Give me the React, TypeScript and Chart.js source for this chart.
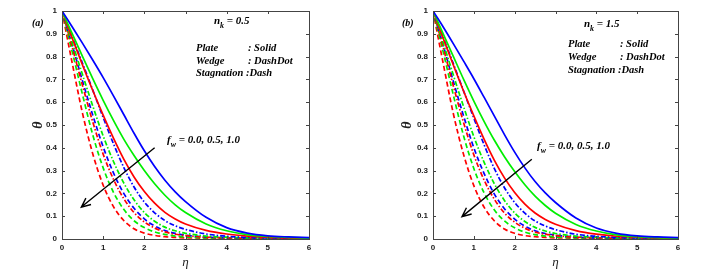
import React, { useEffect, useRef } from 'react';
import { Chart, registerables } from 'chart.js';

Chart.register(...registerables);

// ---------- data ----------
const eta = [0, 0.25, 0.5, 0.75, 1, 1.25, 1.5, 1.75, 2, 2.25, 2.5, 2.75, 3, 3.5, 4, 4.5, 5, 5.5, 6];
const xTickLabels = ['0', '1', '2', '3', '4', '5', '6'];
const yTickLabels = ['0', '0.1', '0.2', '0.3', '0.4', '0.5', '0.6', '0.7', '0.8', '0.9', '1'];

// Panel (a): n_k = 0.5
const plateBlueA = [1, 0.93, 0.858, 0.784, 0.708, 0.628, 0.546, 0.464, 0.387, 0.318, 0.258, 0.207, 0.164, 0.095, 0.05, 0.026, 0.014, 0.009, 0.006];
const plateGreenA = [1, 0.9, 0.8, 0.702, 0.608, 0.52, 0.438, 0.366, 0.3, 0.242, 0.192, 0.15, 0.116, 0.066, 0.036, 0.019, 0.011, 0.007, 0.004];
const plateRedA = [1, 0.88, 0.762, 0.65, 0.543, 0.442, 0.35, 0.272, 0.208, 0.157, 0.117, 0.088, 0.066, 0.038, 0.022, 0.013, 0.008, 0.005, 0.004];
const wedgeBlueA = [1, 0.885, 0.77, 0.652, 0.533, 0.418, 0.314, 0.228, 0.162, 0.115, 0.081, 0.058, 0.042, 0.022, 0.012, 0.007, 0.005, 0.004, 0.003];
const wedgeGreenA = [1, 0.86, 0.72, 0.582, 0.452, 0.34, 0.246, 0.172, 0.116, 0.078, 0.052, 0.036, 0.025, 0.013, 0.008, 0.005, 0.004, 0.003, 0.003];
const wedgeRedA = [1, 0.84, 0.672, 0.512, 0.372, 0.262, 0.177, 0.116, 0.075, 0.048, 0.031, 0.021, 0.015, 0.008, 0.005, 0.004, 0.003, 0.002, 0.002];
const stagBlueA = [1, 0.85, 0.692, 0.542, 0.404, 0.29, 0.2, 0.135, 0.088, 0.057, 0.037, 0.025, 0.017, 0.009, 0.005, 0.004, 0.003, 0.002, 0.002];
const stagGreenA = [1, 0.82, 0.632, 0.455, 0.312, 0.205, 0.13, 0.08, 0.05, 0.031, 0.02, 0.013, 0.009, 0.005, 0.004, 0.003, 0.003, 0.002, 0.002];
const stagRedA = [1, 0.77, 0.55, 0.372, 0.236, 0.142, 0.081, 0.045, 0.026, 0.016, 0.01, 0.007, 0.005, 0.004, 0.003, 0.003, 0.002, 0.002, 0.002];

// Panel (b): n_k = 1.5
const plateBlueB = [1, 0.93, 0.856, 0.78, 0.703, 0.622, 0.54, 0.458, 0.381, 0.312, 0.252, 0.202, 0.16, 0.092, 0.048, 0.025, 0.014, 0.009, 0.006];
const plateGreenB = [1, 0.9, 0.8, 0.7, 0.605, 0.516, 0.434, 0.361, 0.296, 0.238, 0.188, 0.147, 0.113, 0.064, 0.035, 0.018, 0.01, 0.006, 0.004];
const plateRedB = [1, 0.88, 0.762, 0.648, 0.54, 0.438, 0.346, 0.268, 0.204, 0.153, 0.114, 0.086, 0.065, 0.037, 0.021, 0.012, 0.008, 0.005, 0.004];
const wedgeBlueB = [1, 0.885, 0.768, 0.649, 0.53, 0.414, 0.31, 0.225, 0.16, 0.113, 0.079, 0.057, 0.041, 0.021, 0.012, 0.007, 0.005, 0.004, 0.003];
const wedgeGreenB = [1, 0.86, 0.718, 0.58, 0.449, 0.337, 0.243, 0.169, 0.114, 0.077, 0.051, 0.035, 0.024, 0.013, 0.008, 0.005, 0.004, 0.003, 0.003];
const wedgeRedB = [1, 0.84, 0.67, 0.51, 0.369, 0.259, 0.175, 0.114, 0.074, 0.047, 0.03, 0.021, 0.015, 0.008, 0.005, 0.004, 0.003, 0.002, 0.002];
const stagBlueB = [1, 0.85, 0.69, 0.539, 0.4, 0.288, 0.198, 0.133, 0.087, 0.056, 0.036, 0.024, 0.017, 0.009, 0.005, 0.004, 0.003, 0.002, 0.002];
const stagGreenB = [1, 0.82, 0.63, 0.452, 0.309, 0.203, 0.128, 0.079, 0.049, 0.03, 0.019, 0.013, 0.009, 0.005, 0.004, 0.003, 0.003, 0.002, 0.002];
const stagRedB = [1, 0.77, 0.548, 0.37, 0.234, 0.14, 0.08, 0.044, 0.025, 0.015, 0.01, 0.007, 0.005, 0.004, 0.003, 0.003, 0.002, 0.002, 0.002];

// ---------- styles ----------
const SERIF = '"Liberation Serif", "Times New Roman", serif';
const SANS = '"Liberation Sans", Arial, sans-serif';
const BLUE = '#0000ff';
const GREEN = '#00ee00';
const RED = '#ff0000';
const DASH_SOLID: number[] = [];
const DASH_DOT = [5, 2, 1.5, 2];
const DASH = [5, 3];

type PanelCfg = {
  tag: string;
  nkText: string;
  series: { data: number[]; color: string; dash: number[] }[];
  canvasLeft: number;
  leftW: number;
  rightPad: number;
  yTitlePad: number;
  tagPos: [number, number];
  nkPos: [number, number];
  legendPos: [number, number, number, number, number];
  fwPos: [number, number];
  arrowFrom: [number, number];
  arrowTo: [number, number];
};

const panels: PanelCfg[] = [
  {
    tag: '(a)',
    nkText: ' = 0.5',
    series: [
      { data: plateBlueA, color: BLUE, dash: DASH_SOLID },
      { data: plateGreenA, color: GREEN, dash: DASH_SOLID },
      { data: plateRedA, color: RED, dash: DASH_SOLID },
      { data: wedgeBlueA, color: BLUE, dash: DASH_DOT },
      { data: wedgeGreenA, color: GREEN, dash: DASH_DOT },
      { data: wedgeRedA, color: RED, dash: DASH_DOT },
      { data: stagBlueA, color: BLUE, dash: DASH },
      { data: stagGreenA, color: GREEN, dash: DASH },
      { data: stagRedA, color: RED, dash: DASH },
    ],
    canvasLeft: 0,
    leftW: 62,
    rightPad: 43,
    yTitlePad: 30,
    tagPos: [32, 23],
    nkPos: [214, 21],
    legendPos: [196, 248, 48, 61, 73],
    fwPos: [167, 140],
    arrowFrom: [2.25, 0.4],
    arrowTo: [0.47, 0.14],
  },
  {
    tag: '(b)',
    nkText: ' = 1.5',
    series: [
      { data: plateBlueB, color: BLUE, dash: DASH_SOLID },
      { data: plateGreenB, color: GREEN, dash: DASH_SOLID },
      { data: plateRedB, color: RED, dash: DASH_SOLID },
      { data: wedgeBlueB, color: BLUE, dash: DASH_DOT },
      { data: wedgeGreenB, color: GREEN, dash: DASH_DOT },
      { data: wedgeRedB, color: RED, dash: DASH_DOT },
      { data: stagBlueB, color: BLUE, dash: DASH },
      { data: stagGreenB, color: GREEN, dash: DASH },
      { data: stagRedB, color: RED, dash: DASH },
    ],
    canvasLeft: 352,
    leftW: 81,
    rightPad: 26,
    yTitlePad: 47,
    tagPos: [50, 23],
    nkPos: [232, 24],
    legendPos: [216, 268, 44, 57, 70],
    fwPos: [185, 146],
    arrowFrom: [2.42, 0.35],
    arrowTo: [0.71, 0.098],
  },
];

function drawSub(ctx: CanvasRenderingContext2D, x: number, y: number, base: string, sub: string, rest: string, size: number) {
  ctx.font = `bold italic ${size}px ${SERIF}`;
  ctx.fillText(base, x, y);
  const w1 = ctx.measureText(base).width;
  ctx.font = `bold italic ${size * 0.72}px ${SERIF}`;
  ctx.fillText(sub, x + w1, y + size * 0.45);
  const w2 = ctx.measureText(sub).width;
  ctx.font = `bold italic ${size}px ${SERIF}`;
  ctx.fillText(rest, x + w1 + w2, y);
}

function Panel({ cfg }: { cfg: PanelCfg }) {
  const ref = useRef<HTMLCanvasElement>(null);
  useEffect(() => {
    const overlay = {
      id: 'overlay',
      afterDatasetsDraw(chart: any) {
        const ctx: CanvasRenderingContext2D = chart.ctx;
        const { left, right, top, bottom } = chart.chartArea;
        const xs = chart.scales.x;
        const ys = chart.scales.y;
        ctx.save();
        // frame
        ctx.strokeStyle = '#444';
        ctx.lineWidth = 1;
        ctx.setLineDash([]);
        ctx.strokeRect(Math.round(left) + 0.5, Math.round(top) + 0.5, Math.round(right - left), Math.round(bottom - top));
        // inward ticks
        const tl = 3;
        ctx.beginPath();
        xs.ticks.forEach((t: any) => {
          const px = Math.round(xs.getPixelForValue(t.value)) + 0.5;
          ctx.moveTo(px, bottom);
          ctx.lineTo(px, bottom - tl);
          ctx.moveTo(px, top);
          ctx.lineTo(px, top + tl);
        });
        ys.ticks.forEach((t: any) => {
          const py = Math.round(ys.getPixelForValue(t.value)) + 0.5;
          ctx.moveTo(left, py);
          ctx.lineTo(left + tl, py);
          ctx.moveTo(right, py);
          ctx.lineTo(right - tl, py);
        });
        ctx.stroke();

        // texts
        ctx.fillStyle = '#000';
        ctx.textBaseline = 'middle';
        ctx.textAlign = 'left';
        ctx.font = `bold italic 10px ${SERIF}`;
        ctx.fillText(cfg.tag, cfg.tagPos[0], cfg.tagPos[1]);
        drawSub(ctx, cfg.nkPos[0], cfg.nkPos[1], 'n', 'k', cfg.nkText, 11);
        const [lx, cx, y1, y2, y3] = cfg.legendPos;
        ctx.font = `bold italic 10.5px ${SERIF}`;
        ctx.fillText('Plate', lx, y1);
        ctx.fillText(': Solid', cx, y1);
        ctx.fillText('Wedge', lx, y2);
        ctx.fillText(': DashDot', cx, y2);
        ctx.fillText('Stagnation :Dash', lx, y3);
        drawSub(ctx, cfg.fwPos[0], cfg.fwPos[1], 'f', 'w', ' = 0.0, 0.5, 1.0', 11);

        // arrow
        const x1 = xs.getPixelForValue(cfg.arrowFrom[0]);
        const yA = ys.getPixelForValue(cfg.arrowFrom[1]);
        const x2 = xs.getPixelForValue(cfg.arrowTo[0]);
        const yB = ys.getPixelForValue(cfg.arrowTo[1]);
        ctx.strokeStyle = '#000';
        ctx.lineWidth = 1.4;
        ctx.beginPath();
        ctx.moveTo(x1, yA);
        ctx.lineTo(x2, yB);
        const ang = Math.atan2(yB - yA, x2 - x1);
        const hl = 10;
        const spread = 0.42;
        ctx.moveTo(x2 - hl * Math.cos(ang - spread), yB - hl * Math.sin(ang - spread));
        ctx.lineTo(x2, yB);
        ctx.lineTo(x2 - hl * Math.cos(ang + spread), yB - hl * Math.sin(ang + spread));
        ctx.stroke();
        ctx.restore();
      },
    };

    const chart = new Chart(ref.current as HTMLCanvasElement, {
      type: 'line',
      data: {
        datasets: cfg.series.map((s) => ({
          data: eta.map((e, i) => ({ x: e, y: s.data[i] })),
          borderColor: s.color,
          borderDash: s.dash,
          borderWidth: 1.7,
          pointRadius: 0,
          fill: false,
          cubicInterpolationMode: 'monotone' as const,
        })),
      },
      options: {
        animation: false,
        responsive: false,
        devicePixelRatio: 1,
        layout: { padding: { top: 11, right: cfg.rightPad, left: 0, bottom: 0 } },
        plugins: { legend: { display: false }, tooltip: { enabled: false } },
        scales: {
          x: {
            type: 'linear',
            min: 0,
            max: 6,
            grid: { display: false, drawTicks: false },
            border: { display: false },
            ticks: {
              stepSize: 1,
              padding: 4,
              color: '#222',
              font: { family: SANS, size: 8, weight: 'bold' },
              maxRotation: 0,
              callback: (_v: any, i: number) => xTickLabels[i],
            },
            title: {
              display: true,
              text: 'η',
              color: '#222',
              font: { family: SERIF, size: 13, style: 'italic' },
              padding: { top: 0, bottom: 4 },
            },
            afterFit: (s: any) => {
              s.height = 35;
            },
          },
          y: {
            type: 'linear',
            min: 0,
            max: 1,
            grid: { display: false, drawTicks: false },
            border: { display: false },
            ticks: {
              stepSize: 0.1,
              padding: 5,
              color: '#222',
              font: { family: SANS, size: 8, weight: 'bold' },
              callback: (_v: any, i: number) => yTickLabels[i],
            },
            title: {
              display: true,
              text: 'θ',
              color: '#222',
              font: { family: SERIF, size: 14, style: 'italic', weight: 'bold' },
              padding: { top: cfg.yTitlePad, bottom: 0 },
            },
            afterFit: (s: any) => {
              s.width = cfg.leftW;
            },
          },
        },
      } as any,
      plugins: [overlay],
    });
    return () => chart.destroy();
  }, []);
  return (
    <div style={{ position: 'absolute', left: cfg.canvasLeft, top: 0, width: 352, height: 274 }}>
      <canvas ref={ref} width={352} height={274} style={{ width: 352, height: 274, display: 'block' }} />
    </div>
  );
}

export default function App() {
  return (
    <div style={{ position: 'fixed', left: 0, top: 0, width: 704, height: 274, background: '#fff' }}>
      {panels.map((p) => (
        <Panel key={p.tag} cfg={p} />
      ))}
    </div>
  );
}
